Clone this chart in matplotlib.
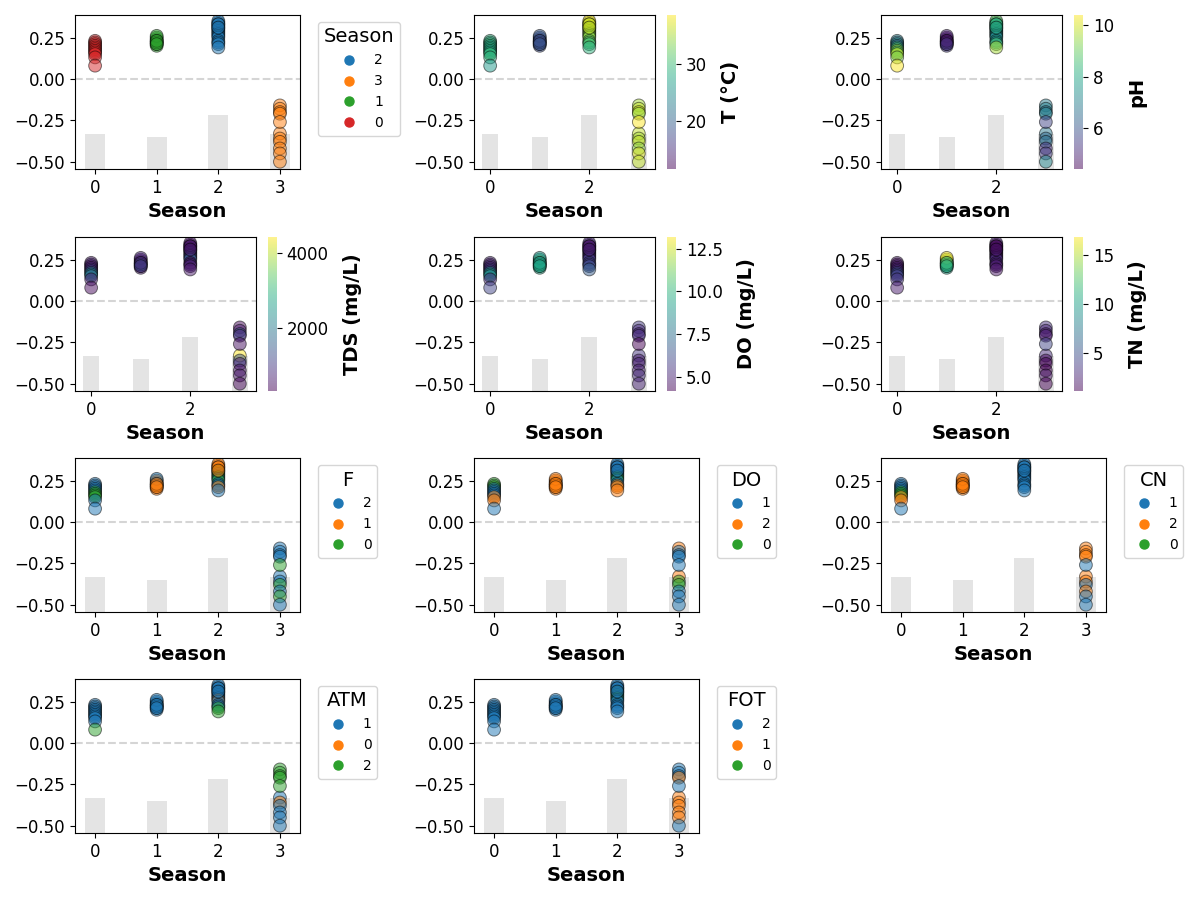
import numpy as np
import pandas as pd
import matplotlib
matplotlib.use('Agg')
import matplotlib.pyplot as plt
from matplotlib.lines import Line2D

# samples: season of each sample and its SHAP value for Season
season = [2, 3,
          2, 2, 2, 2, 2, 2, 2, 2, 2, 2, 2, 2, 2, 2, 2, 2,
          3, 3, 3, 3, 3, 3, 3, 3, 3, 3,
          1, 1, 1, 1, 1, 1, 1, 1, 1, 1,
          0, 0, 0, 0, 0, 0, 0, 0, 0, 0, 0]
shap_season = [0.32, -0.33,
               0.34, 0.35, 0.33, 0.31, 0.30, 0.29, 0.28, 0.33, 0.27, 0.26, 0.25, 0.31, 0.23, 0.22, 0.21, 0.19,
               -0.16, -0.18, -0.20, -0.21, -0.26, -0.36, -0.38, -0.42, -0.45, -0.50,
               0.24, 0.22, 0.25, 0.21, 0.23, 0.20, 0.26, 0.22, 0.23, 0.21,
               0.23, 0.22, 0.21, 0.20, 0.19, 0.18, 0.17, 0.16, 0.15, 0.13, 0.08]

# continuous features
temp = [36, 36,
        37, 38, 35, 34, 36, 33, 35, 37, 34, 33, 34, 36, 32, 31, 30, 29,
        35, 36, 37, 34, 38.6, 35, 36, 34, 37, 36,
        11.7, 18, 19, 17, 20, 18, 19, 17, 18, 19,
        29, 28, 30, 27, 28, 29, 27, 28, 30, 29, 26]
ph = [8.3, 6.8,
      8.6, 8.9, 8.0, 7.8, 7.5, 7.2, 7.6, 8.2, 7.4, 7.0, 7.3, 8.1, 7.6, 7.4, 8.6, 9.6,
      6.9, 7.0, 6.6, 7.1, 5.6, 6.4, 6.6, 5.2, 5.5, 7.2,
      4.8, 5.0, 4.6, 5.2, 4.4, 5.4, 4.9, 5.1, 4.7, 5.3,
      7.0, 6.6, 7.4, 6.0, 8.4, 8.8, 9.6, 8.6, 10.0, 9.2, 10.4]
tds = [620, 4420,
       480, 560, 700, 900, 650, 1500, 800, 520, 1300, 1100, 1600, 600, 340, 700, 650, 600,
       450, 600, 1500, 800, 500, 1400, 700, 550, 600, 400,
       700, 1200, 500, 900, 1500, 600, 800, 1800, 650, 1000,
       600, 800, 500, 700, 900, 1000, 2000, 2300, 1800, 700, 450]
do_mgl = [5.0, 5.5,
          4.8, 5.2, 4.9, 5.3, 4.7, 5.1, 5.5, 4.6, 5.0, 5.4, 5.8, 4.9, 6.0, 5.6, 6.4, 6.8,
          5.6, 5.2, 5.0, 5.4, 4.15, 4.8, 5.1, 4.9, 5.3, 5.0,
          13.2, 9.4, 9.2, 9.6, 9.8, 9.5, 9.0, 9.6, 9.3, 9.4,
          5.0, 4.8, 5.3, 5.1, 5.6, 5.4, 8.8, 9.2, 8.5, 5.2, 6.0]
tn = [2.0, 3.0,
      1.6, 2.4, 1.8, 2.2, 1.5, 2.8, 1.9, 1.2, 2.1, 2.6, 3.0, 1.7, 2.5, 2.3, 2.0, 1.8,
      3.2, 2.6, 2.0, 2.2, 4.2, 1.5, 1.2, 1.04, 1.8, 1.1,
      13.0, 11.0, 15.0, 10.5, 12.0, 10.0, 16.9, 11.5, 12.5, 10.8,
      2.0, 1.6, 2.4, 1.8, 2.6, 3.0, 4.5, 5.0, 4.0, 3.4, 2.2]

# categorical features
f_cat = [2, 2,
         1, 1, 1, 0, 0, 2, 0, 1, 0, 2, 0, 1, 2, 2, 1, 2,
         2, 2, 2, 2, 0, 2, 0, 2, 0, 2,
         1, 2, 1, 1, 2, 1, 2, 1, 1, 1,
         2, 2, 2, 2, 2, 0, 0, 0, 0, 2, 2]
do_cat = [1, 2,
          1, 1, 1, 1, 1, 1, 1, 1, 0, 0, 1, 1, 1, 2, 2, 2,
          2, 1, 1, 1, 1, 0, 0, 1, 1, 1,
          2, 2, 2, 2, 2, 2, 2, 2, 2, 2,
          0, 0, 0, 1, 1, 1, 1, 1, 2, 2, 1]
cn_cat = [1, 2,
          1, 1, 1, 1, 1, 1, 1, 1, 1, 1, 1, 1, 1, 1, 1, 1,
          2, 2, 2, 2, 1, 2, 1, 2, 1, 1,
          2, 2, 2, 2, 2, 2, 2, 2, 2, 2,
          1, 1, 1, 1, 1, 0, 0, 0, 2, 2, 1]
atm_cat = [1, 1,
           1, 1, 1, 1, 1, 1, 1, 1, 1, 0, 1, 1, 1, 1, 2, 2,
           2, 2, 2, 2, 2, 0, 1, 1, 1, 1,
           1, 1, 1, 1, 1, 1, 1, 1, 1, 1,
           1, 1, 1, 1, 1, 1, 1, 1, 1, 1, 2]
fot_cat = [2, 1,
           2, 2, 2, 0, 2, 0, 2, 2, 0, 2, 2, 2, 2, 2, 2, 2,
           2, 2, 2, 1, 2, 1, 1, 1, 1, 2,
           2, 2, 2, 2, 2, 2, 2, 2, 2, 2,
           2, 2, 2, 2, 2, 2, 2, 2, 2, 2, 2]

df = pd.DataFrame({'Season': season, 'shap': shap_season, 'T': temp, 'pH': ph,
                   'TDS': tds, 'DO_mgL': do_mgl, 'TN': tn, 'F': f_cat,
                   'DO': do_cat, 'CN': cn_cat, 'ATM': atm_cat, 'FOT': fot_cat})

# (column, type, label)
panels = [('Season', 'cat', 'Season'), ('T', 'num', 'T (°C)'), ('pH', 'num', 'pH'),
          ('TDS', 'num', 'TDS (mg/L)'), ('DO_mgL', 'num', 'DO (mg/L)'), ('TN', 'num', 'TN (mg/L)'),
          ('F', 'cat', 'F'), ('DO', 'cat', 'DO'), ('CN', 'cat', 'CN'),
          ('ATM', 'cat', 'ATM'), ('FOT', 'cat', 'FOT')]

W, H = 1200, 900
YLIM = (-0.544, 0.386)
BAR_MAX = 0.327
row_tops = [15, 237, 458, 679]
col_lefts = [75, 474, 881]


def px_axes(fig, left, top, width, height):
    return fig.add_axes([left / W, 1 - (top + height) / H, width / W, height / H])


def main():
    fig = plt.figure(figsize=(12, 9), dpi=100)
    tab = plt.get_cmap('tab10').colors
    counts = df['Season'].value_counts().sort_index()

    for i, (col, kind, label) in enumerate(panels):
        r, c = divmod(i, 3)
        width = 225 if kind == 'cat' else 181
        ax = px_axes(fig, col_lefts[c], row_tops[r], width, 154)

        # histogram of season counts at the bottom
        ax.bar(counts.index, counts.values / counts.max() * BAR_MAX, width=0.32,
               bottom=YLIM[0], color='lightgray', alpha=0.6, zorder=0)
        ax.axhline(0, color='#d5d5d5', linestyle='--', linewidth=1.5, zorder=1)

        if kind == 'cat':
            cats = list(pd.unique(df[col]))
            cmap = {v: tab[k] for k, v in enumerate(cats)}
            ax.scatter(df['Season'], df['shap'], c=[cmap[v] for v in df[col]], s=85,
                       alpha=0.5, edgecolors='k', linewidths=0.7, zorder=2)
            handles = [Line2D([], [], marker='o', linestyle='', color=cmap[v], markersize=6.5)
                       for v in cats]
            ax.legend(handles, [str(v) for v in cats], title=label, bbox_to_anchor=(1.05, 1),
                      loc='upper left', fontsize=10, title_fontsize=14)
        else:
            sc = ax.scatter(df['Season'], df['shap'], c=df[col], cmap='viridis', s=85,
                            alpha=0.5, edgecolors='k', linewidths=0.7, zorder=2)
            cax = px_axes(fig, col_lefts[c] + width + 12, row_tops[r], 9, 154)
            cb = fig.colorbar(sc, cax=cax)
            cb.outline.set_visible(False)
            cb.ax.tick_params(labelsize=12)
            cb.set_label(label, fontsize=14, fontweight='bold', labelpad=10)

        ax.set_ylim(*YLIM)
        ax.set_yticks([-0.5, -0.25, 0.0, 0.25])
        ax.tick_params(labelsize=12)
        ax.set_xlabel('Season', fontsize=14, fontweight='bold')

    fig.savefig('out.png', dpi=100)


if __name__ == "__main__":
    main()
